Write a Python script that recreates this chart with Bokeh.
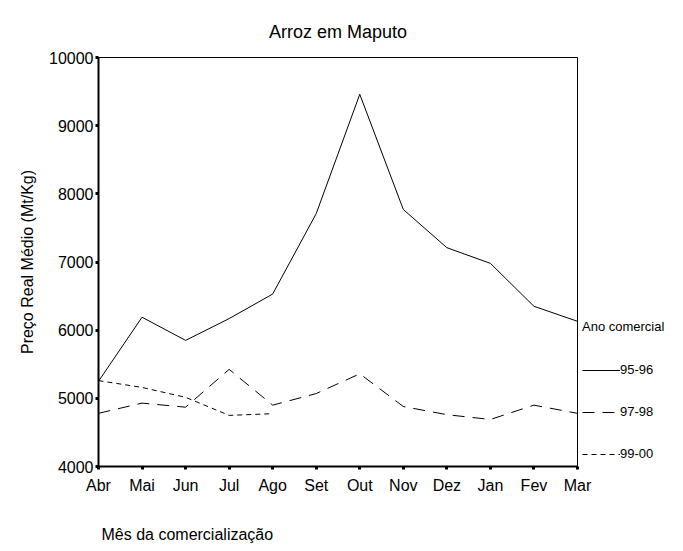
from bokeh.plotting import figure
from bokeh.models import FixedTicker, Legend, LegendItem, Title, Range1d
from bokeh.embed import file_html
from bokeh.resources import INLINE

months = ["Abr", "Mai", "Jun", "Jul", "Ago", "Set", "Out", "Nov", "Dez", "Jan", "Fev", "Mar"]
s_95_96 = [5250, 6190, 5850, 6170, 6530, 7710, 9460, 7770, 7210, 6980, 6350, 6130]
s_97_98 = [4780, 4930, 4870, 5425, 4900, 5070, 5360, 4880, 4760, 4690, 4900, 4780]
s_99_00 = [5260, 5160, 5015, 4750, 4775]
y_ticks = [4000, 5000, 6000, 7000, 8000, 9000, 10000]

FONT = "Liberation Sans"
xs = list(range(len(months)))

p = figure(frame_width=479, frame_height=409, output_backend="svg", toolbar_location=None,
           x_range=Range1d(0, len(months) - 1), y_range=Range1d(y_ticks[0], y_ticks[-1]),
           min_border_left=98, min_border_right=98, min_border_top=57, min_border_bottom=85)

p.title.text = "Arroz em Maputo"
p.title.align = "center"
p.title.text_font = FONT
p.title.text_font_size = "18px"
p.title.text_font_style = "normal"
p.title.text_color = "black"
p.title.standoff = 32

p.grid.visible = False
p.outline_line_color = "black"
p.outline_line_width = 1
p.background_fill_color = "white"
p.border_fill_color = "white"

p.xaxis.ticker = FixedTicker(ticks=xs)
p.xaxis.major_label_overrides = {i: m for i, m in enumerate(months)}
p.yaxis.ticker = FixedTicker(ticks=y_ticks)
for ax in (p.xaxis, p.yaxis):
    ax.axis_line_color = "black"
    ax.axis_line_width = 2
    ax.major_tick_in = 0
    ax.major_tick_out = 3
    ax.major_tick_line_width = 3
    ax.major_tick_line_color = "black"
    ax.minor_tick_line_color = None
    ax.major_label_text_font = FONT
    ax.major_label_text_font_size = "16px"
    ax.major_label_text_color = "black"
p.xaxis.major_label_standoff = 7
p.yaxis.major_label_standoff = 2

p.yaxis.axis_label = "Preço Real Médio (Mt/Kg)"
p.yaxis.axis_label_text_font = FONT
p.yaxis.axis_label_text_font_size = "16px"
p.yaxis.axis_label_text_font_style = "normal"
p.yaxis.axis_label_text_color = "black"
p.yaxis.axis_label_standoff = 10

xlabel = Title(text="Mês da comercialização", align="left", text_font=FONT,
               text_font_size="16px", text_font_style="normal", text_color="black",
               standoff=55, offset=3)
p.add_layout(xlabel, "below")

r1 = p.line(xs, s_95_96, line_color="black", line_width=1)
r2 = p.line(xs, s_97_98, line_color="black", line_width=1, line_dash="12 8")
r3 = p.line(xs[:len(s_99_00)], s_99_00, line_color="black", line_width=1, line_dash="5 4")

legend = Legend(items=[LegendItem(label="95-96", renderers=[r1]),
                       LegendItem(label="97-98", renderers=[r2]),
                       LegendItem(label="99-00", renderers=[r3])],
                title="Ano comercial", location="bottom_left",
                title_text_font=FONT, title_text_font_size="13px", title_text_font_style="normal",
                title_text_color="black",
                label_text_font=FONT, label_text_font_size="13px", label_text_color="black",
                label_standoff=-2,
                glyph_width=38, glyph_height=14, label_height=14, spacing=27,
                title_standoff=28, padding=2, margin=5,
                background_fill_alpha=0, border_line_color=None)
p.add_layout(legend, "right")

open("out.html", "w").write(file_html(p, INLINE))
